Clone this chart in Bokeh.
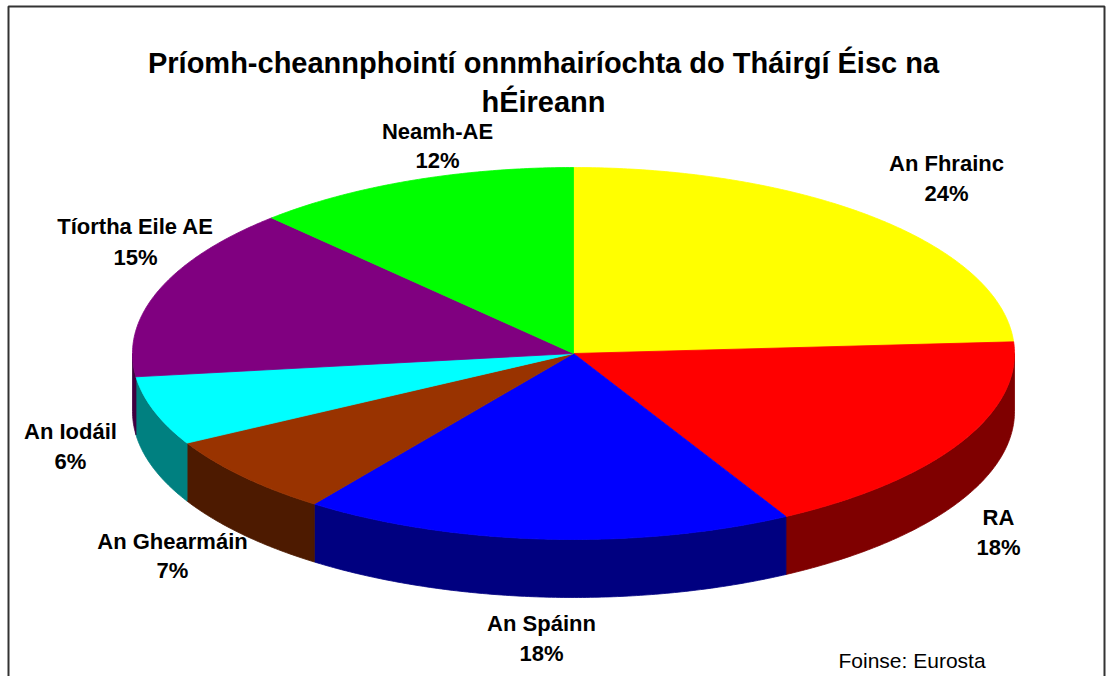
import numpy as np
from bokeh.plotting import figure
from bokeh.models import Range1d, ColumnDataSource
from bokeh.core.properties import value
from bokeh.embed import file_html
from bokeh.resources import INLINE

# ---------------- data ----------------
categories = ["An Fhrainc", "RA", "An Spáinn", "An Ghearmáin", "An Iodáil",
              "Tíortha Eile AE", "Neamh-AE"]
shares = [24, 18, 18, 7, 6, 15, 12]
title_lines = ["Príomh-cheannphointí onnmhairíochta do Tháirgí Éisc na", "hÉireann"]
source_note = "Foinse: Eurosta"

# ---------------- styles / layout ----------------
top_colors = ["#FFFF00", "#FF0000", "#0000FF", "#993300", "#00FFFF", "#800080", "#00FF00"]
side_colors = ["#808000", "#7F0000", "#000080", "#4D1A00", "#008080", "#400040", "#008000"]
# label anchor (x, y of name, y of percent) in picture pixels
label_layout = [(946, 163, 193), (998, 517, 547), (541, 623, 653), (172, 541, 570),
                (70, 431, 461), (135, 226, 257), (437, 131, 160)]
CX, CY, RX, RY, DEPTH = 573, 353, 441, 186, 58
FONT = "Liberation Sans"

W, H = 1106, 676
p = figure(width=W, height=H, output_backend="svg", toolbar_location=None,
           x_range=Range1d(0, W), y_range=Range1d(H, 0),
           min_border=0, x_axis_location=None, y_axis_location=None)
p.grid.visible = False
p.outline_line_color = None
p.background_fill_color = "white"
p.border_fill_color = "white"


def arc(a0, a1, step=0.5):
    n = max(2, int(abs(a1 - a0) / step) + 1)
    t = np.radians(np.linspace(a0, a1, n))
    return CX + RX * np.cos(t), CY - RY * np.sin(t)


total = float(sum(shares))
cum = np.concatenate([[0], np.cumsum(shares)]) / total
starts = 90 - 360 * cum[:-1]
ends = 90 - 360 * cum[1:]

# side walls (front half only)
sx, sy, sc = [], [], []
for s, e, col in zip(starts, ends, side_colors):
    for lo, hi in [(-180, 0), (-540, -360)]:
        a, b = max(e, lo), min(s, hi)
        if b > a:
            xs, ys = arc(b, a)
            sx.append(list(xs) + list(xs[::-1]))
            sy.append(list(ys) + list((ys + DEPTH)[::-1]))
            sc.append(col)
p.patches(xs="xs", ys="ys", fill_color="c", line_color="c", line_width=0.8,
          source=ColumnDataSource(dict(xs=sx, ys=sy, c=sc)))

# top slices
tx, ty = [], []
for s, e in zip(starts, ends):
    xs, ys = arc(s, e)
    tx.append([CX] + list(xs))
    ty.append([CY] + list(ys))
p.patches(xs="xs", ys="ys", fill_color="c", line_color="c", line_width=0.8,
          source=ColumnDataSource(dict(xs=tx, ys=ty, c=top_colors)))

# labels
lx = [l[0] for l in label_layout]
p.text(x=lx, y=[l[1] for l in label_layout], text=categories,
       text_font=value(FONT), text_font_style="bold", text_font_size="22px",
       text_align="center", text_baseline="middle", text_color="black")
p.text(x=lx, y=[l[2] for l in label_layout], text=[f"{v}%" for v in shares],
       text_font=value(FONT), text_font_style="bold", text_font_size="22px",
       text_align="center", text_baseline="middle", text_color="black")

# title
p.text(x=[543, 543], y=[62, 101], text=title_lines,
       text_font=value(FONT), text_font_style="bold", text_font_size="29px",
       text_align="center", text_baseline="middle", text_color="black")

# source
p.text(x=[838], y=[660], text=[source_note], text_font=value(FONT),
       text_font_size="21px", text_align="left", text_baseline="middle",
       text_color="black")

# frame (top, left, right; bottom is cut off in the original)
p.line(x=[8, 8, 1104, 1104], y=[690, 6, 6, 690], line_color="#333333", line_width=2)

open("out.html", "w").write(file_html(p, INLINE))
